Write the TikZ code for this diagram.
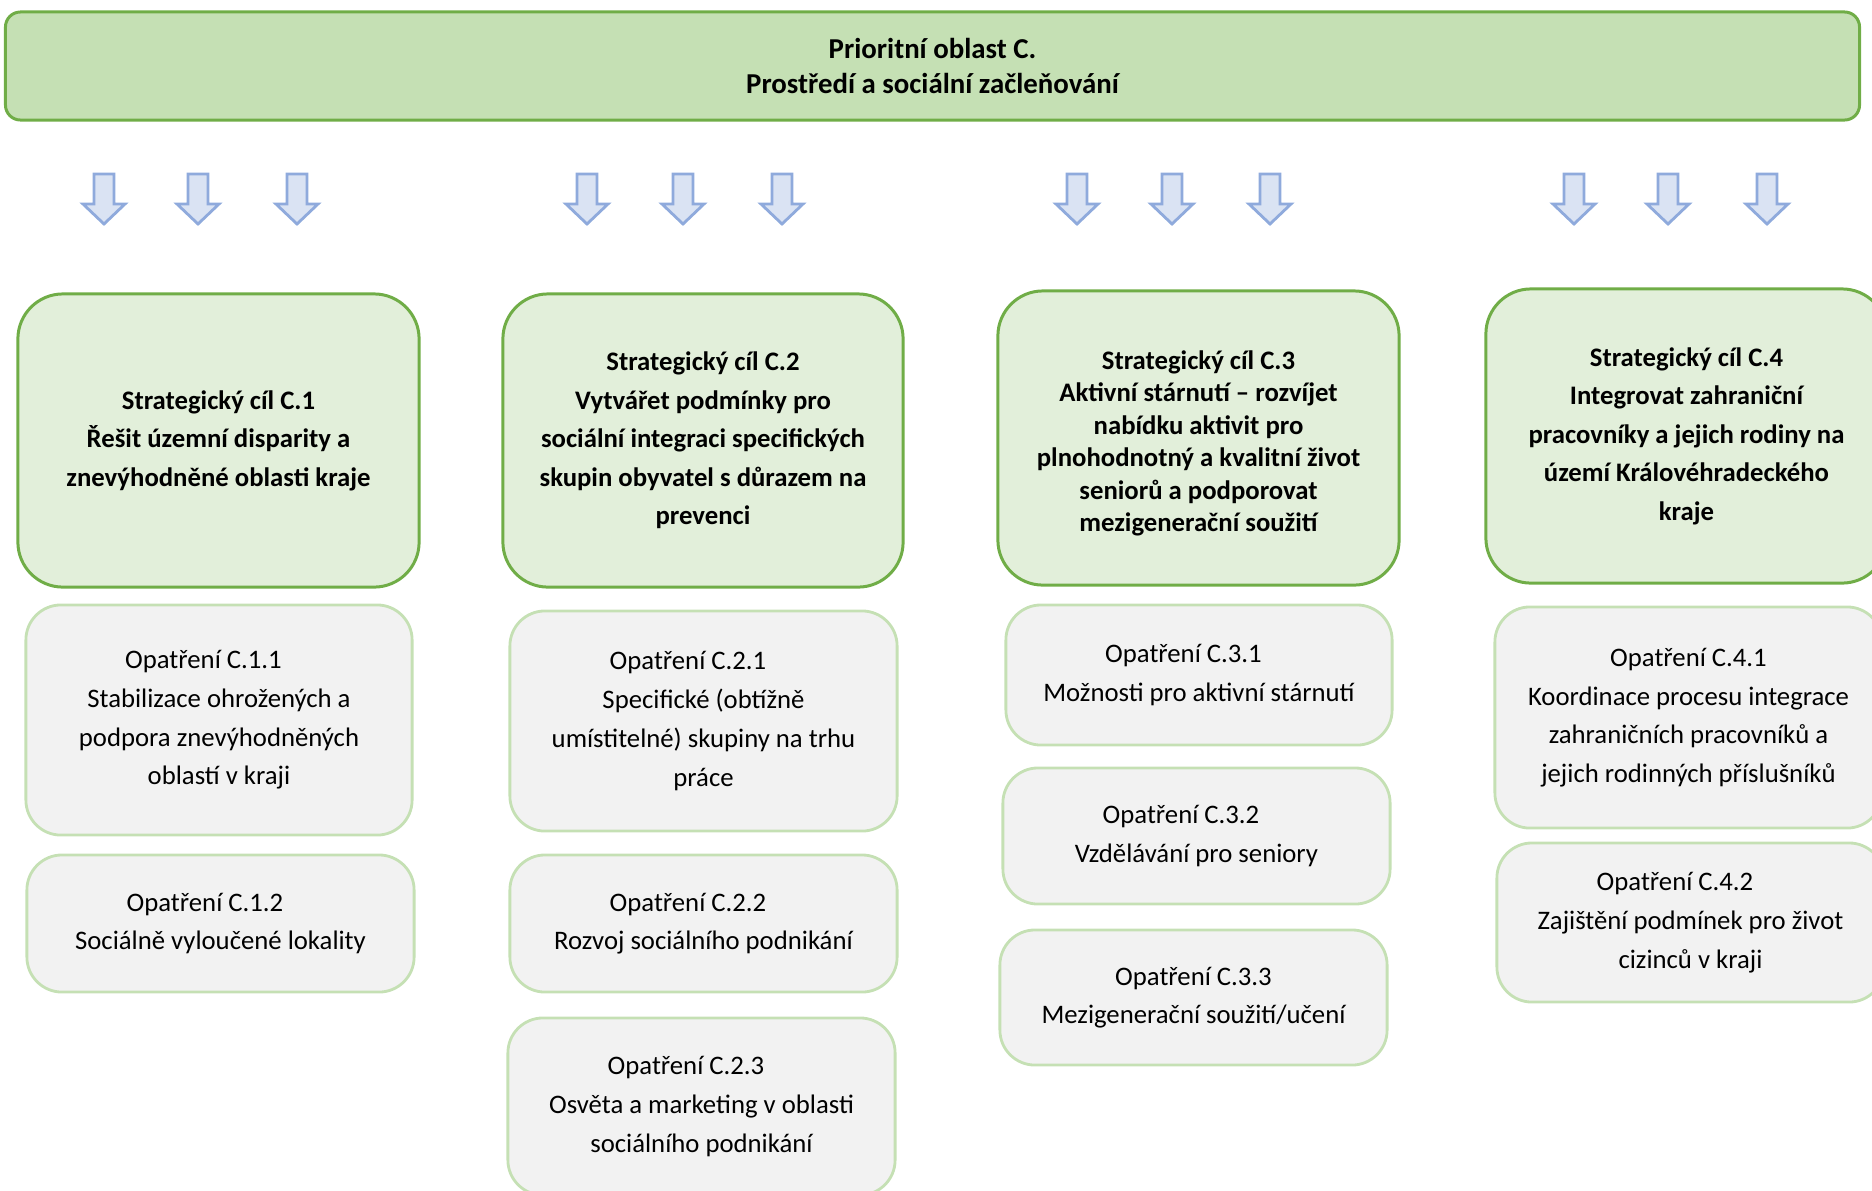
\documentclass[tikz,border=0pt]{standalone}
\usepackage{fontspec}
\setmainfont{Carlito}
\usetikzlibrary{positioning}

\definecolor{bannerfill}{HTML}{C5E0B4}
\definecolor{goalfill}{HTML}{E2EFDA}
\definecolor{goalline}{HTML}{70AD47}
\definecolor{stepfill}{HTML}{F2F2F2}
\definecolor{stepline}{HTML}{C5E0B4}
\definecolor{arrowfill}{HTML}{DAE3F3}
\definecolor{arrowline}{HTML}{8FAADC}

% title line of a measure, set a little to the left
\newcommand{\optitle}[1]{#1\kern0.31cm}

\tikzset{
  banner/.style={draw=goalline, fill=bannerfill, line width=0.85pt, rounded corners=0.15cm,
    inner sep=0pt, align=center, font=\fontsize{8.2pt}{10.2pt}\selectfont\bfseries},
  goalbox/.style={draw=goalline, fill=goalfill, line width=0.85pt, rounded corners=0.45cm,
    inner sep=0pt, align=center, font=\fontsize{7.6pt}{10.95pt}\selectfont\bfseries},
  measurebox/.style={draw=stepline, fill=stepfill, line width=0.8pt, rounded corners=0.35cm,
    inner sep=0pt, align=center, font=\fontsize{7.6pt}{11pt}\selectfont},
  downarrow/.style={draw=arrowline, fill=arrowfill, line width=0.8pt, line join=miter}
}

\begin{document}
\begin{tikzpicture}[x=0.01cm, y=-0.01cm]
  \useasboundingbox (0,0) rectangle (1872,1190);

  % Priority area banner
  \node[banner, minimum width=18.53cm, minimum height=1.08cm] (area) at (932.5,66)
    {Prioritní oblast C.\\Prostředí a sociální začleňování};

  % Block arrows under the banner
  \foreach \x in {104,198,297,587,683,782,1077,1172,1270,1574,1668,1767}
    \draw[downarrow] (\x-10,174) -- (\x+10,174) -- (\x+10,204) -- (\x+21,204)
      -- (\x,224) -- (\x-21,204) -- (\x-10,204) -- cycle;

  % Strategic goals
  \node[goalbox, minimum width=4.01cm, minimum height=2.93cm] (goal1) at (218.5,440.5)
    {Strategický cíl C.1\\Řešit územní disparity a\\znevýhodněné oblasti kraje};
  \node[goalbox, minimum width=4.00cm, minimum height=2.93cm] (goal2) at (703,440.5)
    {Strategický cíl C.2\\Vytvářet podmínky pro\\sociální integraci specifických\\skupin obyvatel s důrazem na\\prevenci};
  \node[goalbox, minimum width=4.01cm, minimum height=2.94cm,
    font=\fontsize{7.6pt}{9.25pt}\selectfont\bfseries] (goal3) at (1198.5,438)
    {\rule{0pt}{8.4pt}Strategický cíl C.3\\Aktivní stárnutí – rozvíjet\\nabídku aktivit pro\\plnohodnotný a kvalitní život\\seniorů a podporovat\\mezigenerační soužití};
  \node[goalbox, minimum width=4.01cm, minimum height=2.94cm] (goal4) at (1686.5,436)
    {Strategický cíl C.4\\Integrovat zahraniční\\pracovníky a jejich rodiny na\\území Královéhradeckého\\kraje};

  % Measures of goal C.1
  \node[measurebox, minimum width=3.86cm, minimum height=2.30cm] (m11) at (219,720)
    {\optitle{Opatření C.1.1}\\Stabilizace ohrožených a\\podpora znevýhodněných\\oblastí v kraji};
  \node[measurebox, minimum width=3.87cm, minimum height=1.37cm] (m12) at (220.5,923.5)
    {\optitle{Opatření C.1.2}\\Sociálně vyloučené lokality};

  % Measures of goal C.2
  \node[measurebox, minimum width=3.87cm, minimum height=2.20cm] (m21) at (703.5,721)
    {\optitle{Opatření C.2.1}\\Specifické (obtížně\\umístitelné) skupiny na trhu\\práce};
  \node[measurebox, minimum width=3.87cm, minimum height=1.37cm] (m22) at (703.5,923.5)
    {\optitle{Opatření C.2.2}\\Rozvoj sociálního podnikání};
  \node[measurebox, minimum width=3.87cm, minimum height=1.77cm] (m23) at (701.5,1106.5)
    {\optitle{Opatření C.2.3}\\Osvěta a marketing v oblasti\\sociálního podnikání};

  % Measures of goal C.3
  \node[measurebox, minimum width=3.86cm, minimum height=1.40cm] (m31) at (1199,675)
    {\optitle{Opatření C.3.1}\\Možnosti pro aktivní stárnutí};
  \node[measurebox, minimum width=3.87cm, minimum height=1.36cm] (m32) at (1196.5,836)
    {\optitle{Opatření C.3.2}\\Vzdělávání pro seniory};
  \node[measurebox, minimum width=3.87cm, minimum height=1.35cm] (m33) at (1193.5,997.5)
    {Opatření C.3.3\\Mezigenerační soužití/učení};

  % Measures of goal C.4
  \node[measurebox, minimum width=3.87cm, minimum height=2.21cm] (m41) at (1688.5,717.5)
    {Opatření C.4.1\\Koordinace procesu integrace\\zahraničních pracovníků a\\jejich rodinných příslušníků};
  \node[measurebox, minimum width=3.87cm, minimum height=1.59cm] (m42) at (1690.5,922.5)
    {\optitle{Opatření C.4.2}\\Zajištění podmínek pro život\\cizinců v kraji};
\end{tikzpicture}
\end{document}
